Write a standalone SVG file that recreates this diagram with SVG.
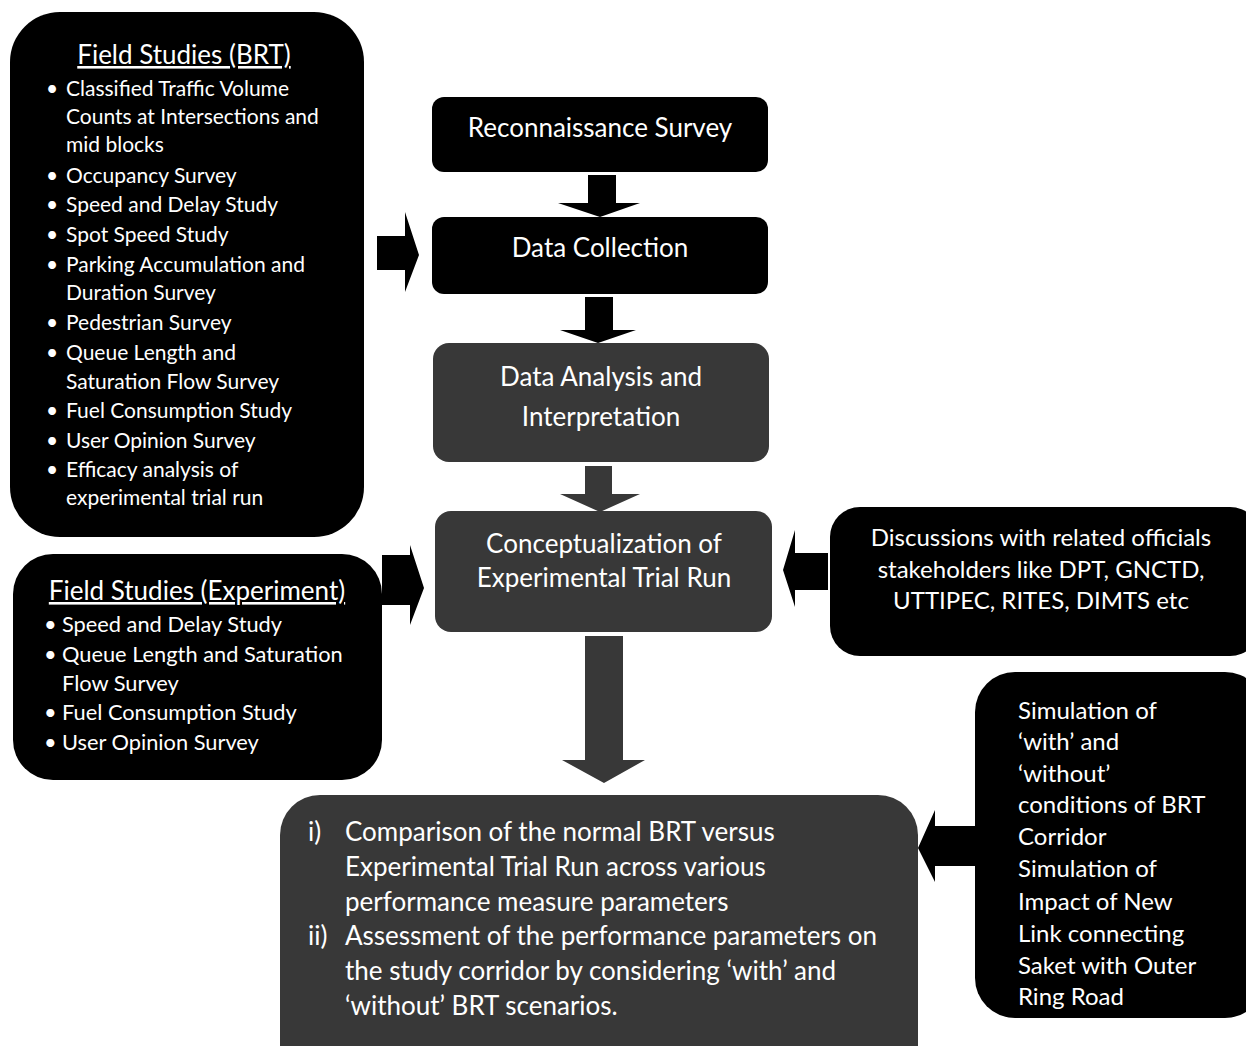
<svg xmlns="http://www.w3.org/2000/svg" width="1246" height="1046" viewBox="0 0 1246 1046">
<style>
.blk{fill:#000}
.gry{fill:#383838}
text{font-family:Lato,"Open Sans","Liberation Sans",sans-serif;fill:#fff}
.t26{font-size:26px}
.t24{font-size:24px}
.t22{font-size:24px}
.t21{font-size:21px}
.t215{font-size:21.8px}
.mid{text-anchor:middle}
.u{text-decoration:underline}
</style>
<rect width="1246" height="1046" fill="#fff"/>
<g id="connectors">
<path class="blk" d="M377 236H405V212L419 255L405 292V270H377Z"/>
<path class="blk" d="M588 175H616V203H640L600 217L558 203H588Z"/>
<path class="blk" d="M585 297H613V330H636L598 343L560 330H585Z"/>
<path class="gry" d="M585 466H612V494H640L600 512L560 494H585Z"/>
<path class="blk" d="M382 555H410V545L424 588L410 625V605H382Z"/>
<path class="blk" d="M828 553V590H795V607L783 570L795 530V553Z"/>
<path class="gry" d="M585 636H623V760H645L604 783L562 760H585Z"/>
<path class="blk" d="M978 826V866H935V882L918 848L935 810V826Z"/>
</g>
<g id="brt">
<rect class="blk" x="10" y="12" width="354" height="525" rx="50"/>
<text class="t26 mid u" x="184" y="64">Field Studies (BRT)</text>
<g class="t21">
<text x="46" y="96">•</text><text x="66" y="96">Classified Traffic Volume</text>
<text x="66" y="124">Counts at Intersections and</text>
<text x="66" y="152">mid blocks</text>
<text x="46" y="183">•</text><text x="66" y="183">Occupancy Survey</text>
<text x="46" y="212">•</text><text x="66" y="212">Speed and Delay Study</text>
<text x="46" y="242">•</text><text x="66" y="242">Spot Speed Study</text>
<text x="46" y="272">•</text><text x="66" y="272">Parking Accumulation and</text>
<text x="66" y="300">Duration Survey</text>
<text x="46" y="330">•</text><text x="66" y="330">Pedestrian Survey</text>
<text x="46" y="360">•</text><text x="66" y="360">Queue Length and</text>
<text x="66" y="389">Saturation Flow Survey</text>
<text x="46" y="418">•</text><text x="66" y="418">Fuel Consumption Study</text>
<text x="46" y="448">•</text><text x="66" y="448">User Opinion Survey</text>
<text x="46" y="477">•</text><text x="66" y="477">Efficacy analysis of</text>
<text x="66" y="505">experimental trial run</text>
</g>
</g>
<g id="recon">
<rect class="blk" x="432" y="97" width="336" height="75" rx="12"/>
<text class="t26 mid" x="600" y="137">Reconnaissance Survey</text>
</g>
<g id="datacollection">
<rect class="blk" x="432" y="217" width="336" height="77" rx="12"/>
<text class="t26 mid" x="600" y="257">Data Collection</text>
</g>
<g id="analysis">
<rect class="gry" x="433" y="343" width="336" height="119" rx="16"/>
<text class="t26 mid" x="601" y="386">Data Analysis and</text>
<text class="t26 mid" x="601" y="426">Interpretation</text>
</g>
<g id="concept">
<rect class="gry" x="435" y="511" width="337" height="121" rx="16"/>
<text class="t26 mid" x="604" y="553">Conceptualization of</text>
<text class="t26 mid" x="604" y="587">Experimental Trial Run</text>
</g>
<g id="discussions">
<rect class="blk" x="830" y="507" width="430" height="149" rx="30"/>
<text class="t24 mid" x="1041" y="546">Discussions with related officials</text>
<text class="t24 mid" x="1041" y="578">stakeholders like DPT, GNCTD,</text>
<text class="t24 mid" x="1041" y="609">UTTIPEC, RITES, DIMTS etc</text>
</g>
<g id="experiment">
<rect class="blk" x="13" y="554" width="369" height="226" rx="40"/>
<text class="t26 mid u" x="197" y="600">Field Studies (Experiment)</text>
<g class="t215">
<text x="44" y="632">•</text><text x="62" y="632">Speed and Delay Study</text>
<text x="44" y="662">•</text><text x="62" y="662">Queue Length and Saturation</text>
<text x="62" y="691">Flow Survey</text>
<text x="44" y="720">•</text><text x="62" y="720">Fuel Consumption Study</text>
<text x="44" y="750">•</text><text x="62" y="750">User Opinion Survey</text>
</g>
</g>
<g id="simulation">
<rect class="blk" x="975" y="672" width="290" height="346" rx="40"/>
<g class="t22">
<text x="1018" y="719">Simulation of</text>
<text x="1018" y="750">‘with’ and</text>
<text x="1018" y="782">‘without’</text>
<text x="1018" y="813">conditions of BRT</text>
<text x="1018" y="845">Corridor</text>
<text x="1018" y="877">Simulation of</text>
<text x="1018" y="910">Impact of New</text>
<text x="1018" y="942">Link connecting</text>
<text x="1018" y="974">Saket with Outer</text>
<text x="1018" y="1005">Ring Road</text>
</g>
</g>
<g id="comparison">
<rect class="gry" x="280" y="795" width="638" height="290" rx="40"/>
<g class="t26">
<text x="308" y="841">i)</text><text x="345" y="841">Comparison of the normal BRT versus</text>
<text x="345" y="876">Experimental Trial Run across various</text>
<text x="345" y="911">performance measure parameters</text>
<text x="308" y="945">ii)</text><text x="345" y="945">Assessment of the performance parameters on</text>
<text x="345" y="980">the study corridor by considering ‘with’ and</text>
<text x="345" y="1015">‘without’ BRT scenarios.</text>
</g>
</g>
</svg>
